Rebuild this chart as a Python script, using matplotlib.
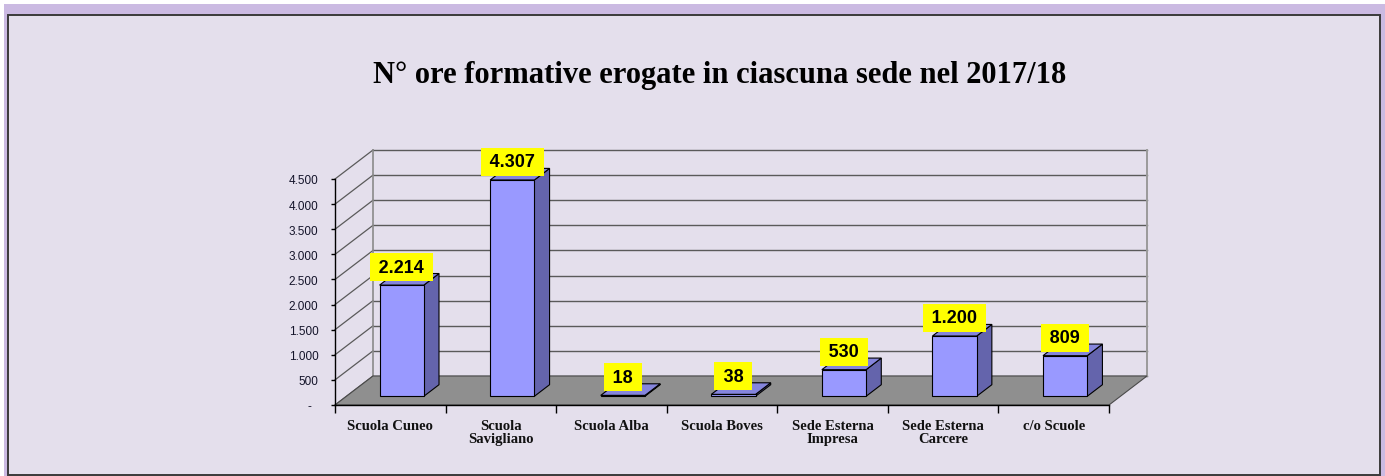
import matplotlib
matplotlib.use("Agg")
import matplotlib.pyplot as plt
from matplotlib.patches import Polygon, Rectangle
from matplotlib.lines import Line2D

# Data
categories = ["Scuola Cuneo", "Scuola\nSavigliano", "Scuola Alba", "Scuola Boves",
              "Sede Esterna\nImpresa", "Sede Esterna\nCarcere", "c/o Scuole"]
hours = [2214, 4307, 18, 38, 530, 1200, 809]
y_ticks = [0, 500, 1000, 1500, 2000, 2500, 3000, 3500, 4000, 4500]
title = "N° ore formative erogate in ciascuna sede nel 2017/18"

W, H = 1385, 477
fig = plt.figure(figsize=(W / 100, H / 100), dpi=100)
fig.patch.set_facecolor("white")


def fx(px):
    return px / W


def fy(py):
    return 1 - py / H


# Outer frame: purple band and lavender panel
fig.patches.append(Rectangle((fx(4), fy(477)), fx(1385) - fx(4), fy(5) - fy(477),
                             transform=fig.transFigure, facecolor="#cbbae2",
                             edgecolor="none", zorder=-3))
fig.patches.append(Rectangle((fx(7.5), fy(476)), fx(1379.5) - fx(7.5), fy(16) - fy(476),
                             transform=fig.transFigure, facecolor="#e4dfec",
                             edgecolor="#3a3a3a", linewidth=1.4, zorder=-2))

fig.text(fx(720), fy(83), title, ha="center", va="baseline",
         fontsize=22, fontweight="bold", family="Liberation Serif", color="black")

# Front plane of the 3D box: x in category units, y in hours
x_left, x_right, y_zero, y_top = 335, 1109, 406, 180
ax = fig.add_axes([fx(x_left), fy(y_zero), fx(x_right) - fx(x_left), fy(y_top) - fy(y_zero)])
ax.set_xlim(0, len(categories))
ax.set_ylim(0, 4500)
ax.patch.set_visible(False)

n = len(categories)
ymax = y_ticks[-1]
# depth offset of the box (category units, hours)
dx = 38 / ((x_right - x_left) / n)
dy = 29 / ((y_zero - y_top) / ymax)

wall_col = "#5a5a5a"
# back wall gridlines
for v in y_ticks:
    ax.add_line(Line2D([dx, n + dx], [v + dy, v + dy], color=wall_col, lw=1.0,
                       clip_on=False, zorder=1))
# left wall diagonals
for v in y_ticks:
    ax.add_line(Line2D([0, dx], [v, v + dy], color=wall_col, lw=0.9,
                       clip_on=False, zorder=1))
# wall edges
ax.add_line(Line2D([dx, dx], [dy, ymax + dy], color="#8a8a8a", lw=1.2, clip_on=False, zorder=1))
ax.add_line(Line2D([n + dx, n + dx], [dy, ymax + dy], color="#9a9a9a", lw=1.4, clip_on=False, zorder=1))

# floor
ax.add_patch(Polygon([(0, 0), (n, 0), (n + dx, dy), (dx, dy)], closed=True,
                     facecolor="#8f8f8f", edgecolor="#4a4a4a", lw=0.8,
                     clip_on=False, zorder=2))

# 3D columns
f_front, bar_w = 0.3, 0.4
bdx, bdy = 0.4 * dx, 0.4 * dy
front_col, top_col, side_col = "#9999ff", "#8585dc", "#6464ac"
for i, v in enumerate(hours):
    x0 = i + (1 - bar_w) / 2 + f_front * dx
    y0 = f_front * dy
    front = Polygon([(x0, y0), (x0 + bar_w, y0), (x0 + bar_w, y0 + v), (x0, y0 + v)],
                    closed=True, facecolor=front_col, edgecolor="black", lw=0.8,
                    clip_on=False, zorder=5)
    side = Polygon([(x0 + bar_w, y0), (x0 + bar_w + bdx, y0 + bdy),
                    (x0 + bar_w + bdx, y0 + v + bdy), (x0 + bar_w, y0 + v)],
                   closed=True, facecolor=side_col, edgecolor="black", lw=0.8,
                   clip_on=False, zorder=4)
    top = Polygon([(x0, y0 + v), (x0 + bar_w, y0 + v), (x0 + bar_w + bdx, y0 + v + bdy),
                   (x0 + bdx, y0 + v + bdy)],
                  closed=True, facecolor=top_col, edgecolor="black", lw=0.8,
                  clip_on=False, zorder=4)
    for p in (side, top, front):
        ax.add_patch(p)
    label = f"{v:,}".replace(",", ".")
    ax.annotate("\u2009" + label + "\u2009", xy=(x0 + bar_w / 2, y0 + v),
                xytext=(0, 13), textcoords="offset points", ha="center", va="center",
                fontsize=13, fontweight="bold", family="Liberation Sans", color="black",
                bbox=dict(boxstyle="square,pad=0.3", facecolor="#ffff00", edgecolor="none"),
                zorder=8, annotation_clip=False)

# axes, ticks and labels
for s in ("top", "right"):
    ax.spines[s].set_visible(False)
for s in ("left", "bottom"):
    ax.spines[s].set_color("black")
    ax.spines[s].set_linewidth(1.0)
    ax.spines[s].set_zorder(6)

ax.set_yticks(y_ticks)
ax.set_yticklabels(["-  "] + [f"{v:,}".replace(",", ".") for v in y_ticks[1:]],
                   fontsize=8.5, family="Liberation Sans", color="#14142a")
ax.tick_params(axis="y", direction="out", length=3, width=1, pad=9, color="black")

ax.set_xticks(range(n + 1))
ax.set_xticklabels([])
ax.tick_params(axis="x", which="major", direction="out", length=6, width=1, color="black")
ax.set_xticks([i + 0.5 for i in range(n)], minor=True)
ax.set_xticklabels(categories, minor=True, fontsize=10.5, fontweight="bold",
                   family="Liberation Serif", color="#111111", linespacing=1.05)
ax.tick_params(axis="x", which="minor", length=0, pad=10)

fig.savefig("out.png", dpi=100, facecolor=fig.get_facecolor())
